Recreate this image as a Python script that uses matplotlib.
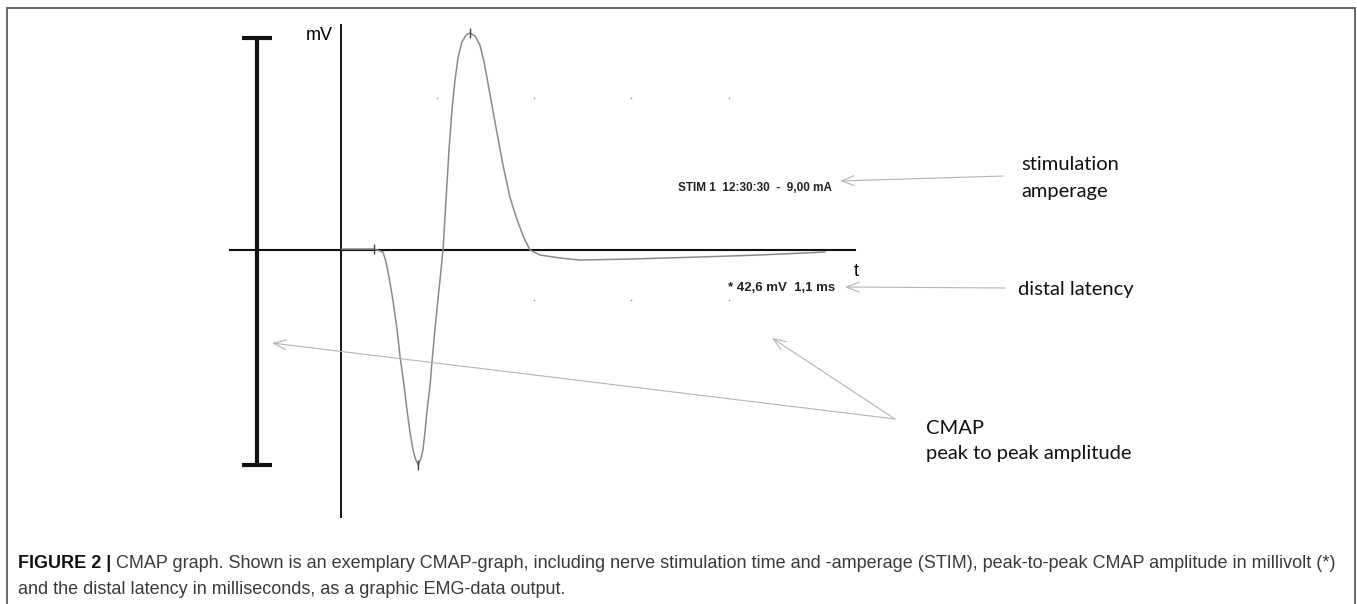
import matplotlib
matplotlib.use("Agg")
import matplotlib.pyplot as plt
import matplotlib.transforms as mtransforms

W, H = 1357, 604

# CMAP trace: time after stimulus (ms) and amplitude (mV)
t_ms = [0.03, 1.10, 1.40, 1.50, 1.63, 1.73, 1.87, 1.97, 2.10, 2.20, 2.30, 2.40,
        2.47, 2.57, 2.67, 2.73, 2.80, 2.87, 2.97, 3.03, 3.13, 3.23, 3.30, 3.40,
        3.50, 3.60, 3.70, 3.80, 3.90, 4.03, 4.17, 4.30, 4.47, 4.63, 4.77, 4.97,
        5.20, 5.40, 5.63, 5.87, 6.10, 6.30, 6.63, 7.30, 7.97, 9.63, 11.97, 13.97,
        16.13]
v_mv = [0.1, 0.1, -0.2, -1.18, -3.16, -4.93, -7.89, -10.55, -13.31, -15.78, -17.95, -19.72,
        -20.51, -21.2, -20.51, -19.72, -17.95, -15.78, -13.31, -11.14, -7.89, -4.93, -2.96, 0.0,
        4.93, 9.86, 13.81, 16.77, 18.93, 20.51, 21.2, 21.4, 21.1, 20.22, 18.54, 15.29,
        11.54, 8.38, 5.23, 2.96, 1.18, 0.0, -0.49, -0.79, -0.99, -0.89, -0.69, -0.49,
        -0.2]

# cursor marks: onset (distal latency), negative peak, positive peak
cursor_t = [1.10, 2.57, 4.30]
cursor_v = [0.1, -21.2, 21.4]

# display grid dots
grid_t = [3.2, 6.43, 9.67, 12.93]
grid_v = [15.0, -4.9]

# amplitude scale bar (mV) and its time position
scale_lo, scale_hi, scale_t = -21.2, 20.9, -2.8

stim_label = "STIM 1  12:30:30  -  9,00 mA"
result_label = "* 42,6 mV  1,1 ms"
caption_head = "FIGURE 2 |"
caption_body = (" CMAP graph. Shown is an exemplary CMAP-graph, including nerve stimulation time "
                "and -amperage (STIM), peak-to-peak CMAP amplitude in millivolt (*)")
caption_line2 = "and the distal latency in milliseconds, as a graphic EMG-data output."

# pixel geometry of the trace panel
X0, Y0, PX_MS, PX_MV = 341, 250, 30.0, 10.14

fig = plt.figure(figsize=(W / 100, H / 100), dpi=100)
ax = fig.add_axes([0, 0, 1, 1])
ax.set_xlim(-X0 / PX_MS, (W - X0) / PX_MS)
ax.set_ylim((Y0 - H) / PX_MV, Y0 / PX_MV)
ax.axis("off")

# pixel coordinates, origin top-left
px = mtransforms.Affine2D().scale(1 / W, -1 / H).translate(0, 1) + fig.transFigure

# axes
ax.plot([-3.7, 17.13], [0, 0], color="#111111", lw=1.5)
ax.plot([0, 0], [22.2, -26.3], color="#111111", lw=1.4)

# scale bar
ax.plot([scale_t, scale_t], [scale_lo, scale_hi], color="#111111", lw=3.0,
        solid_capstyle="butt")
for v in (scale_lo, scale_hi):
    ax.plot([scale_t - 0.5, scale_t + 0.5], [v, v], color="#111111", lw=3.0,
            solid_capstyle="butt")

# trace
ax.plot(t_ms, v_mv, color="#8a8a8a", lw=1.1, solid_joinstyle="round")
ax.plot(cursor_t, cursor_v, ls="none", marker="|", ms=7, mew=1.0, color="#444444")
for gv in grid_v:
    ax.plot(grid_t, [gv] * len(grid_t), ls="none", marker="o", ms=1.2,
            color="#999999", mec="none")

sans = ["Liberation Sans", "DejaVu Sans"]
note = ["Lato", "DejaVu Sans"]

fig.text(333, 36, "mV", transform=px, ha="right", va="center", fontsize=13, family=sans)
fig.text(854, 272, "t", transform=px, ha="left", va="center", fontsize=13, family=sans)
fig.text(678, 188, stim_label, transform=px, ha="left", va="center", fontsize=8.5,
         fontweight="bold", family=sans, color="#222222")
fig.text(728, 288, result_label, transform=px, ha="left", va="center", fontsize=9.5,
         fontweight="bold", family=sans, color="#222222")

for y, s in [(165, "stimulation"), (192, "amperage")]:
    fig.text(1021, y, s, transform=px, ha="left", va="center", fontsize=14.5,
             family=note, color="#111111")
fig.text(1018, 289, "distal latency", transform=px, ha="left", va="center",
         fontsize=14.5, family=note, color="#111111")
for y, s in [(428, "CMAP"), (453, "peak to peak amplitude")]:
    fig.text(926, y, s, transform=px, ha="left", va="center", fontsize=14.5,
             family=note, color="#111111")

arrow = dict(arrowstyle="->,head_length=0.9,head_width=0.35", color="#b5b5b5", lw=0.8,
             shrinkA=0, shrinkB=0)
for (x0, y0), (x1, y1) in [((1003, 176), (840, 181)),
                           ((1005, 288), (845, 287)),
                           ((895, 419), (272, 343)),
                           ((895, 419), (772, 338))]:
    ax.annotate("", xy=(x1, y1), xycoords=px, xytext=(x0, y0), textcoords=px,
                arrowprops=arrow)

# frame around figure panel
for xs, ys in [((7, 1355), (8, 8)), ((7, 7), (8, 604)), ((1355, 1355), (8, 604))]:
    ax.plot(xs, ys, color="#666666", lw=1.4, transform=px, clip_on=False)

# caption
head = fig.text(18, 563, caption_head, transform=px, ha="left", va="center",
                fontsize=13.0, fontweight="bold", family=sans, color="#111111")
fig.canvas.draw()
bb = head.get_window_extent()
fig.text(bb.x1 / W, 1 - 563 / H, caption_body, ha="left", va="center",
         fontsize=13.0, family=sans, color="#3a3a3a")
fig.text(18, 590, caption_line2, transform=px, ha="left", va="center",
         fontsize=13.0, family=sans, color="#3a3a3a")

fig.savefig("out.png", dpi=100, facecolor="white")
